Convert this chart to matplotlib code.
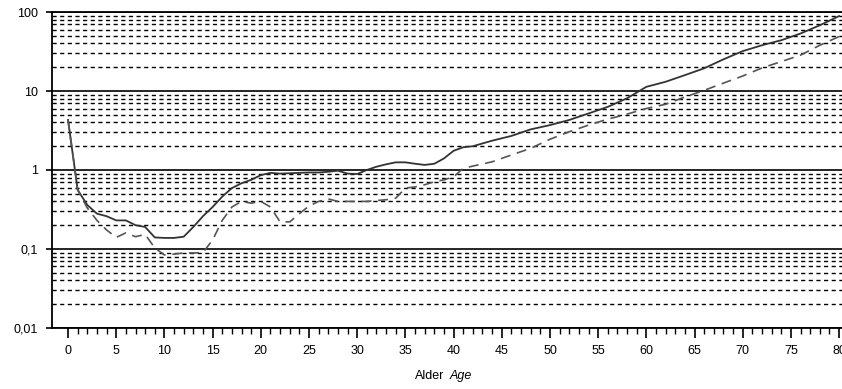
import matplotlib
matplotlib.use("Agg")
import matplotlib.pyplot as plt
from matplotlib.ticker import FixedLocator, NullFormatter, LogLocator

plt.rcParams["font.family"] = ["Liberation Sans Narrow", "Liberation Sans", "DejaVu Sans"]

# solid series
ages_solid = list(range(0, 40)) + [40, 41, 42, 44, 46, 48, 50, 52, 54, 56, 58, 60,
                                   62, 64, 66, 68, 70, 72, 74, 76, 78, 80]
vals_solid = [4.3, 0.56, 0.36, 0.28, 0.26, 0.23, 0.23, 0.20, 0.19, 0.14,
              0.138, 0.138, 0.143, 0.19, 0.26, 0.34, 0.46, 0.59, 0.68, 0.75,
              0.86, 0.92, 0.90, 0.91, 0.92, 0.93, 0.93, 0.95, 0.98, 0.90,
              0.89, 1.0, 1.1, 1.18, 1.25, 1.25, 1.2, 1.16, 1.2, 1.4,
              1.75, 1.94, 2.0, 2.35, 2.7, 3.27, 3.7, 4.3, 5.2, 6.3, 8.1, 11.3,
              13.1, 15.9, 19.4, 25.2, 32, 38, 44, 53.5, 68, 89]

# dashed series
ages_dashed = list(ages_solid)
vals_dashed = [4.3, 0.56, 0.33, 0.23, 0.174, 0.14, 0.16, 0.143, 0.153, 0.103,
               0.084, 0.086, 0.089, 0.089, 0.09, 0.13, 0.23, 0.34, 0.40, 0.38,
               0.40, 0.34, 0.22, 0.22, 0.28, 0.35, 0.40, 0.43, 0.40, 0.40,
               0.40, 0.40, 0.41, 0.42, 0.44, 0.59, 0.61, 0.65, 0.71, 0.75,
               0.82, 1.05, 1.12, 1.27, 1.55, 1.88, 2.45, 3.05, 3.7, 4.4, 5.1, 6.0,
               6.8, 8.4, 10.2, 12.6, 15.5, 19.6, 23.6, 28.5, 38, 49]

y_ticks = [0.01, 0.1, 1, 10, 100]
y_labels = ["0,01", "0,1", "1", "10", "100"]
x_ticks = list(range(0, 81, 5))

fig = plt.figure(figsize=(8.42, 3.89), dpi=100)
ax = fig.add_axes([0.0618, 0.157, 0.9382, 0.812])

ax.set_yscale("log")
ax.set_ylim(0.01, 100)
ax.set_xlim(-1.66, 80.3)

ax.plot(ages_solid, vals_solid, color="#333333", lw=1.3, zorder=3)
ax.plot(ages_dashed, vals_dashed, color="#555555", lw=1.2,
        linestyle=(0, (6, 4)), zorder=3)

ax.yaxis.set_major_locator(FixedLocator(y_ticks))
ax.set_yticklabels(y_labels)
ax.yaxis.set_minor_locator(LogLocator(base=10, subs=range(2, 10)))
ax.yaxis.set_minor_formatter(NullFormatter())
ax.tick_params(axis="y", which="minor", length=0)
ax.tick_params(axis="y", which="major", length=4, width=1.2, labelsize=9, pad=6)

ax.set_xticks(x_ticks)
ax.set_xticks(range(0, 81), minor=True)
ax.tick_params(axis="x", which="major", length=7, width=1.2, labelsize=9, pad=5)
ax.tick_params(axis="x", which="minor", length=4, width=1.0)

ax.grid(True, which="major", axis="y", color="black", lw=1.2, linestyle="-")
ax.grid(True, which="minor", axis="y", color="black", lw=1.0,
        linestyle=(0, (3, 2.5)))

for s in ["right"]:
    ax.spines[s].set_visible(False)
for s in ["left", "bottom", "top"]:
    ax.spines[s].set_linewidth(1.3)

fig.text(0.528, 0.018, "Alder", ha="right", va="bottom", fontsize=9)
fig.text(0.534, 0.018, "Age", ha="left", va="bottom", fontsize=9, style="italic")

fig.savefig("out.png", dpi=100)
